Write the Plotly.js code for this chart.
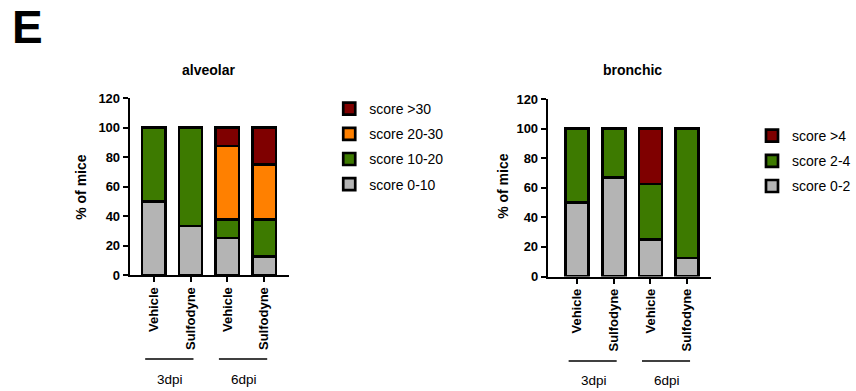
<!DOCTYPE html>
<html>
<head>
<meta charset="utf-8">
<script src="https://cdn.plot.ly/plotly-3.0.1.min.js"></script>
<style>html,body{margin:0;padding:0;background:#fff;}#chart{width:856px;height:391px;}</style>
</head>
<body>
<div id="chart"></div>
<script>
// ---- data ----
var treatments = ['Vehicle', 'Sulfodyne', 'Vehicle', 'Sulfodyne'];
var timepoints = ['3dpi', '3dpi', '6dpi', '6dpi'];

var alveolarLabels = ['score 0-10', 'score 10-20', 'score 20-30', 'score >30'];
var alveolar_0_10  = [50, 33.3, 25, 12.5];
var alveolar_10_20 = [50, 66.7, 12.5, 25];
var alveolar_20_30 = [0, 0, 50, 37.5];
var alveolar_gt30  = [0, 0, 12.5, 25];

var bronchicLabels = ['score 0-2', 'score 2-4', 'score >4'];
var bronchic_0_2 = [50, 66.7, 25, 12.5];
var bronchic_2_4 = [50, 33.3, 37.5, 87.5];
var bronchic_gt4 = [0, 0, 37.5, 0];

var yTicks = [0, 20, 40, 60, 80, 100, 120];

// ---- styles ----
var FONT = 'Liberation Sans, Arial, Helvetica, sans-serif';
var colGray = '#b4b4b4', colGreen = '#3d7a00', colOrange = '#ff8000', colRed = '#7f0000';
var W = 856, H = 391;
function px(x) { return x / W; }
function py(y) { return 1 - y / H; }

var xIdx = treatments.map(function (_, i) { return i; });

function barTrace(name, vals, color, xa, ya, legend, rank) {
  return {
    type: 'bar', name: name, x: xIdx, y: vals,
    xaxis: xa, yaxis: ya, legend: legend, legendgroup: legend + name, legendrank: rank,
    width: 0.63,
    marker: { color: color, line: { color: '#000', width: 2.7 } },
    hoverinfo: 'y+name'
  };
}

var data = [
  barTrace(alveolarLabels[0], alveolar_0_10, colGray, 'x', 'y', 'legend', 4),
  barTrace(alveolarLabels[1], alveolar_10_20, colGreen, 'x', 'y', 'legend', 3),
  barTrace(alveolarLabels[2], alveolar_20_30, colOrange, 'x', 'y', 'legend', 2),
  barTrace(alveolarLabels[3], alveolar_gt30, colRed, 'x', 'y', 'legend', 1),
  barTrace(bronchicLabels[0], bronchic_0_2, colGray, 'x2', 'y2', 'legend2', 3),
  barTrace(bronchicLabels[1], bronchic_2_4, colGreen, 'x2', 'y2', 'legend2', 2),
  barTrace(bronchicLabels[2], bronchic_gt4, colRed, 'x2', 'y2', 'legend2', 1)
];

function xAxis(domain, range, anchor) {
  return {
    domain: domain, range: range, anchor: anchor,
    showline: true, linewidth: 2, linecolor: '#000', mirror: false,
    showgrid: false, zeroline: false,
    ticks: 'outside', ticklen: 5, tickwidth: 2, tickcolor: '#000',
    tickvals: xIdx, ticktext: treatments, tickangle: -90,
    tickfont: { family: FONT, size: 13, color: '#000', weight: 'bold' },
    fixedrange: true
  };
}
function yAxis(domain, anchor) {
  return {
    domain: domain, range: [0, 120], anchor: anchor,
    showline: true, linewidth: 2, linecolor: '#000',
    showgrid: false, zeroline: false,
    ticks: 'outside', ticklen: 5, tickwidth: 2, tickcolor: '#000',
    tickvals: yTicks, ticktext: yTicks.map(String),
    tickfont: { family: FONT, size: 13, color: '#000', weight: 'bold' },
    fixedrange: true
  };
}

// group labels (timepoints) underneath
var groups = [];
timepoints.forEach(function (t) { if (groups.indexOf(t) < 0) groups.push(t); });

var shapes = [], annotations = [];
[['x', 359, 379], ['x2', 361, 380]].forEach(function (cfg) {
  groups.forEach(function (g) {
    var idx = [];
    timepoints.forEach(function (t, i) { if (t === g) idx.push(i); });
    var mid = (idx[0] + idx[idx.length - 1]) / 2 - 0.05;
    shapes.push({ type: 'line', xref: cfg[0], yref: 'paper', x0: mid - 0.68, x1: mid + 0.63,
      y0: py(cfg[1]), y1: py(cfg[1]), line: { color: '#000', width: 1.3 } });
    annotations.push({ xref: cfg[0], yref: 'paper', x: mid, y: py(cfg[2]), text: g, showarrow: false,
      xanchor: 'center', yanchor: 'middle', font: { family: FONT, size: 13.5, color: '#000' } });
  });
});

// titles
annotations.push({ xref: 'x', yref: 'paper', x: 1.5, y: py(70), text: 'alveolar', showarrow: false,
  xanchor: 'center', yanchor: 'middle', font: { family: FONT, size: 14, color: '#000', weight: 'bold' } });
annotations.push({ xref: 'x2', yref: 'paper', x: 1.5, y: py(70), text: 'bronchic', showarrow: false,
  xanchor: 'center', yanchor: 'middle', font: { family: FONT, size: 14, color: '#000', weight: 'bold' } });
annotations.push({ xref: 'paper', yref: 'paper', x: px(81), y: py(187), text: '% of mice', showarrow: false,
  textangle: -90, xanchor: 'center', yanchor: 'middle', font: { family: FONT, size: 14, color: '#000', weight: 'bold' } });
annotations.push({ xref: 'paper', yref: 'paper', x: px(504), y: py(186), text: '% of mice', showarrow: false,
  textangle: -90, xanchor: 'center', yanchor: 'middle', font: { family: FONT, size: 14, color: '#000', weight: 'bold' } });
annotations.push({ xref: 'paper', yref: 'paper', x: px(28), y: py(27), text: 'E', showarrow: false,
  xanchor: 'center', yanchor: 'middle', font: { family: FONT, size: 46, color: '#000', weight: 'bold' } });

var legendBase = {
  xref: 'paper', yref: 'paper', xanchor: 'left', yanchor: 'top',
  traceorder: 'grouped', tracegroupgap: 4,
  bgcolor: 'rgba(0,0,0,0)', borderwidth: 0,
  font: { family: FONT, size: 14, color: '#000' }
};

var layout = {
  width: W, height: H,
  margin: { l: 0, r: 0, t: 0, b: 0 },
  paper_bgcolor: '#fff', plot_bgcolor: '#fff',
  barmode: 'stack', bargap: 0.3,
  showlegend: true,
  xaxis: xAxis([px(130), px(290)], [-0.65, 3.68], 'y'),
  yaxis: yAxis([1 - 275 / H, 1 - 98 / H], 'x'),
  xaxis2: xAxis([px(549), px(713)], [-0.80, 3.66], 'y2'),
  yaxis2: yAxis([1 - 276.5 / H, 1 - 99 / H], 'x2'),
  legend: Object.assign({}, legendBase, { x: px(330), y: py(93) }),
  legend2: Object.assign({}, legendBase, { x: px(754), y: py(120) }),
  shapes: shapes,
  annotations: annotations
};

Plotly.newPlot('chart', data, layout, { displayModeBar: false, staticPlot: true });
</script>
</body>
</html>
